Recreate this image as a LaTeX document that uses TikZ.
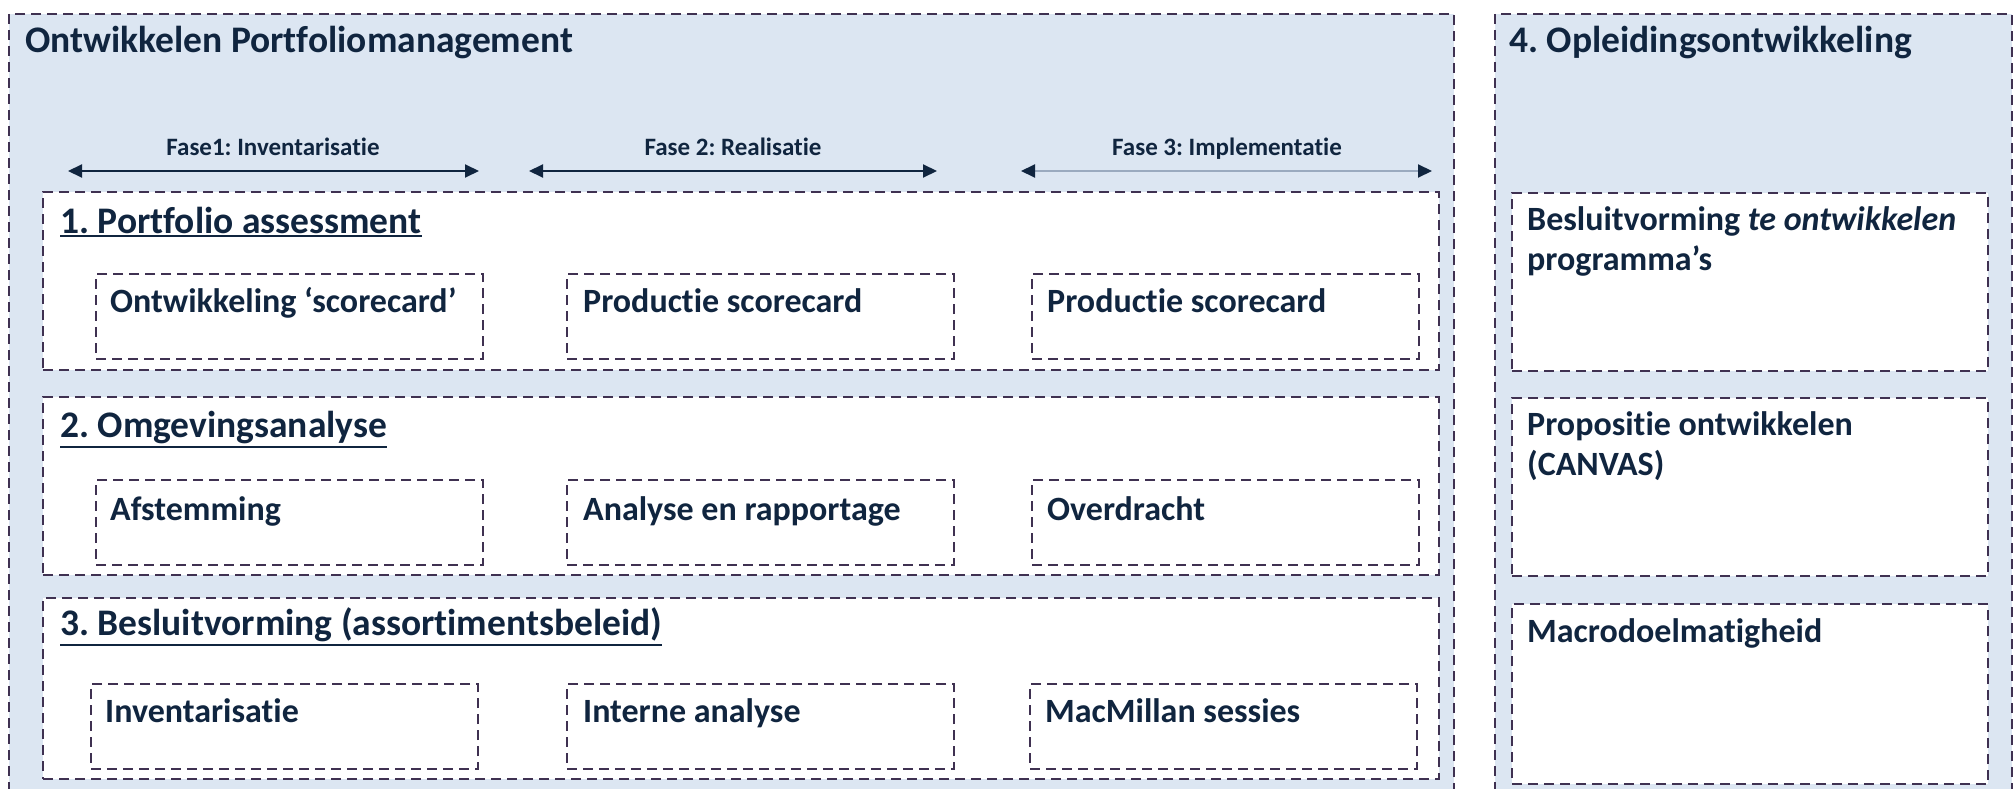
\documentclass[tikz,border=0pt]{standalone}
\usepackage{fontspec}
\setmainfont{Carlito}[Ligatures=NoCommon]
\usetikzlibrary{arrows.meta}
\definecolor{bgblue}{HTML}{DCE6F2}
\definecolor{dashc}{HTML}{3F3151}
\definecolor{navy}{HTML}{10253F}
\definecolor{lineg}{HTML}{9AAABF}
\frenchspacing
\begin{document}
\begin{tikzpicture}[x=1pt,y=-1pt,
 dsh/.style={draw=dashc, line width=2pt, dash pattern=on 10pt off 6pt},
 panel/.style={dsh, fill=bgblue, anchor=north west, inner sep=0pt},
 wbox/.style={dsh, fill=white, anchor=north west, inner sep=0pt},
 sbox/.style={dsh, fill=white, anchor=north west, inner sep=0pt, minimum width=387pt, minimum height=85pt},
 ttl/.style={anchor=base west, inner sep=0pt, text=navy, font=\bfseries\fontsize{37.5}{44}\selectfont},
 sub/.style={anchor=base west, inner sep=0pt, text=navy, font=\bfseries\fontsize{34}{40}\selectfont},
 fase/.style={anchor=base, inner sep=0pt, text=navy, font=\bfseries\fontsize{25}{30}\selectfont},
 phase/.style={line width=2pt, draw=navy, {Triangle[length=14pt,width=13pt]}-{Triangle[length=14pt,width=13pt]}},
 ulin/.style={line width=2pt, draw=navy},
]
\useasboundingbox (0,0) rectangle (2013,789);
\clip (0,0) rectangle (2013,789);
% panels
\node[panel, minimum width=1445pt, minimum height=790pt] (left) at (8,13) {};
\node[panel, minimum width=517pt, minimum height=790pt] (right) at (1494,13) {};
\node[ttl] (lt) at (25,53) {Ontwikkelen Portfoliomanagement};
\node[ttl] (rt) at (1509,53) {4. Opleidingsontwikkeling};
% phases
\coordinate (f1a) at (68,171); \coordinate (f1b) at (479,171);
\coordinate (f2a) at (529,171); \coordinate (f2b) at (937,171);
\coordinate (f3a) at (1021,171); \coordinate (f3b) at (1432,171);
\draw[phase] (f1a) -- (f1b);
\draw[phase] (f2a) -- (f2b);
\draw[line width=2pt, draw=lineg, {Triangle[length=14pt,width=13pt,color=navy]}-{Triangle[length=14pt,width=13pt,color=navy]}] (f3a) -- (f3b);
\node[fase] (l1) at (273,155) {Fase1: Inventarisatie};
\node[fase] (l2) at (733,155) {Fase 2: Realisatie};
\node[fase] (l3) at (1227,155) {Fase 3: Implementatie};
% sections
\node[wbox, minimum width=1396pt, minimum height=178pt] (s1) at (42,191) {};
\node[wbox, minimum width=1396pt, minimum height=178pt] (s2) at (42,396) {};
\node[wbox, minimum width=1396pt, minimum height=181pt] (s3) at (42,597) {};
\node[ttl] (t1) at (60,233) {1. Portfolio assessment};
\node[ttl] (t2) at (60,437) {2. Omgevingsanalyse};
\node[ttl] (t3) at (60,635) {3. Besluitvorming (assortimentsbeleid)};
\foreach \n in {t1,t2,t3}{
  \draw[ulin] ([yshift=-3pt]\n.south west) -- ([yshift=-3pt]\n.south east);
}
% sub boxes
\node[sbox] (a1) at (95,273) {};
\node[sbox] (a2) at (566,273) {};
\node[sbox] (a3) at (1031,273) {};
\node[sbox] (b1) at (95,479) {};
\node[sbox] (b2) at (566,479) {};
\node[sbox] (b3) at (1031,479) {};
\node[sbox] (c1) at (90,683) {};
\node[sbox] (c2) at (566,683) {};
\node[sbox] (c3) at (1029,683) {};
\node[sub] (ta1) at (110,312) {Ontwikkeling ‘scorecard’};
\node[sub] (ta2) at (583,312) {Productie scorecard};
\node[sub] (ta3) at (1047,312) {Productie scorecard};
\node[sub] (tb1) at (110,520) {Afstemming};
\node[sub] (tb2) at (583,520) {Analyse en rapportage};
\node[sub] (tb3) at (1047,520) {Overdracht};
\node[sub] (tc1) at (105,722) {Inventarisatie};
\node[sub] (tc2) at (583,722) {Interne analyse};
\node[sub] (tc3) at (1045,722) {MacMillan sessies};
% right boxes
\node[wbox, minimum width=476pt, minimum height=178pt] (r1) at (1511,192) {};
\node[wbox, minimum width=476pt, minimum height=178pt] (r2) at (1511,397) {};
\node[wbox, minimum width=476pt, minimum height=180pt] (r3) at (1511,603) {};
\node[sub] (tr1a) at (1527,230) {Besluitvorming \textit{te ontwikkelen}};
\node[sub] (tr1b) at (1527,270) {programma’s};
\node[sub] (tr2a) at (1527,435) {Propositie ontwikkelen};
\node[sub] (tr2b) at (1527,475) {(CANVAS)};
\node[sub] (tr3) at (1527,642) {Macrodoelmatigheid};
\end{tikzpicture}
\end{document}
